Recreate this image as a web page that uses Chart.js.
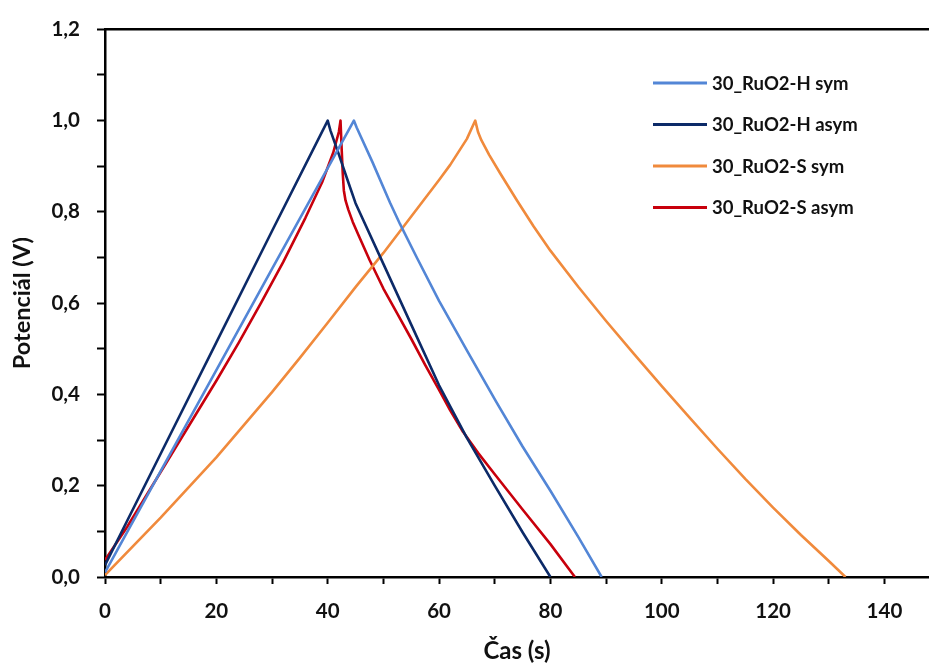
<!DOCTYPE html>
<html>
<head>
<meta charset="utf-8">
<script src="https://cdn.jsdelivr.net/npm/chart.js@4.4.1/dist/chart.umd.min.js"></script>
<style>
  html, body { margin: 0; padding: 0; background: #fff; }
  #wrap { width: 929px; height: 666px; }
</style>
</head>
<body>
<div id="wrap"><canvas id="c" width="929" height="666"></canvas></div>
<script>
  // series names and colours
  const seriesNames = ['30_RuO2-H sym', '30_RuO2-H asym', '30_RuO2-S sym', '30_RuO2-S asym'];
  const seriesColors = ['#5386D6', '#0C2A68', '#F08A3C', '#C8000C'];

  // 30_RuO2-H sym
  const hSymT = [0, 10, 20, 30, 40, 44.7, 45.2, 48, 51.2, 53, 56, 60, 65.2, 70.3, 75, 80, 85, 89.2];
  const hSymV = [0.01, 0.232, 0.453, 0.675, 0.896, 1.0, 0.985, 0.91, 0.82, 0.773, 0.70, 0.605, 0.492, 0.383, 0.286, 0.189, 0.088, 0];

  // 30_RuO2-H asym
  const hAsymT = [0, 10, 20, 30, 40, 40.5, 42, 43.5, 45, 50, 55, 60, 65, 70, 75, 80];
  const hAsymV = [0.026, 0.27, 0.514, 0.758, 1.0, 0.978, 0.926, 0.872, 0.819, 0.686, 0.553, 0.42, 0.305, 0.20, 0.098, 0];

  // 30_RuO2-S sym
  const sSymT = [0, 10, 20, 30, 35, 40, 45, 50, 55, 60, 62, 65, 66.5, 67, 67.6, 69, 71, 74, 77, 80, 85, 90, 95, 100, 105, 110, 115, 120, 125, 130, 133];
  const sSymV = [0.004, 0.13, 0.262, 0.405, 0.48, 0.557, 0.635, 0.71, 0.79, 0.87, 0.903, 0.96, 1.0, 0.975, 0.957, 0.925, 0.884, 0.825, 0.768, 0.715, 0.636, 0.561, 0.489, 0.418, 0.349, 0.281, 0.215, 0.152, 0.092, 0.035, 0];

  // 30_RuO2-S asym
  const sAsymT = [0, 4, 8, 12, 16, 20, 24, 28, 32, 36, 39, 41, 42, 42.3, 42.5, 42.7, 42.9, 43.2, 43.7, 44.5, 45.5, 47.5, 50, 52.5, 55, 57.5, 60, 62, 64.3, 67, 70, 75, 80, 84.4];
  const sAsymV = [0.037, 0.11, 0.19, 0.27, 0.35, 0.43, 0.513, 0.60, 0.69, 0.787, 0.865, 0.93, 0.975, 1.0, 0.94, 0.885, 0.847, 0.825, 0.805, 0.778, 0.75, 0.695, 0.632, 0.577, 0.522, 0.465, 0.41, 0.365, 0.318, 0.272, 0.225, 0.148, 0.072, 0];

  // axis ticks
  const xTicks = [0, 10, 20, 30, 40, 50, 60, 70, 80, 90, 100, 110, 120, 130, 140];
  const xLabels = [0, 20, 40, 60, 80, 100, 120, 140];
  const yTicks = [0, 0.1, 0.2, 0.3, 0.4, 0.5, 0.6, 0.7, 0.8, 0.9, 1.0, 1.1, 1.2];
  const yLabels = [0, 0.2, 0.4, 0.6, 0.8, 1.0, 1.2];

  const FONT = 'Lato, "Open Sans", sans-serif';

  function pts(t, v) { return t.map((x, i) => ({ x: x, y: v[i] })); }
  const allSeries = [[hSymT, hSymV], [hAsymT, hAsymV], [sSymT, sSymV], [sAsymT, sAsymV]];

  const datasets = allSeries.map((s, i) => ({
    label: seriesNames[i],
    data: pts(s[0], s[1]),
    borderColor: seriesColors[i],
    backgroundColor: seriesColors[i],
    borderWidth: 2.6,
    borderJoinStyle: 'round',
    pointRadius: 0,
    showLine: true,
    tension: 0,
    fill: false
  }));

  // top frame line + legend inside plot
  const framePlugin = {
    id: 'frame',
    afterDraw(chart) {
      const ctx = chart.ctx, a = chart.chartArea;
      ctx.save();
      ctx.strokeStyle = '#000';
      ctx.lineWidth = 2.5;
      ctx.beginPath();
      ctx.moveTo(a.left, a.top);
      ctx.lineTo(chart.width, a.top);
      ctx.stroke();

      ctx.font = 'bold 18.5px ' + FONT;
      ctx.textBaseline = 'middle';
      ctx.textAlign = 'left';
      seriesNames.forEach((name, i) => {
        const y = 83 + i * 41.5;
        ctx.strokeStyle = seriesColors[i];
        ctx.lineWidth = 3;
        ctx.beginPath();
        ctx.moveTo(653, y);
        ctx.lineTo(707, y);
        ctx.stroke();
        ctx.fillStyle = '#111';
        ctx.fillText(name, 712, y + 1);
      });
      ctx.restore();
    }
  };

  new Chart(document.getElementById('c').getContext('2d'), {
    type: 'scatter',
    data: { datasets },
    options: {
      responsive: false,
      animation: false,
      layout: { padding: { top: 23, right: 0, left: 0, bottom: 0 } },
      plugins: { legend: { display: false }, tooltip: { enabled: false } },
      scales: {
        x: {
          type: 'linear',
          min: 0,
          max: 148,
          afterBuildTicks: s => { s.ticks = xTicks.map(v => ({ value: v })); },
          afterFit: s => { s.height = 89; },
          border: { display: true, color: '#000', width: 2.5 },
          grid: { drawOnChartArea: false, drawTicks: true, tickLength: 7, tickColor: '#000', tickWidth: 2 },
          ticks: {
            color: '#111',
            padding: 15,
            maxRotation: 0,
            autoSkip: false,
            font: { family: FONT, size: 20.5, weight: 'bold' },
            callback: v => xLabels.includes(v) ? String(v) : ''
          },
          title: {
            display: true,
            text: 'Čas (s)',
            color: '#111',
            font: { family: FONT, size: 24, weight: 'bold' },
            padding: { top: 0, bottom: 0 }
          }
        },
        y: {
          min: 0,
          max: 1.2,
          afterBuildTicks: s => { s.ticks = yTicks.map(v => ({ value: v })); },
          afterFit: s => { s.width = 105; },
          border: { display: true, color: '#000', width: 2.5 },
          grid: { drawOnChartArea: false, drawTicks: true, tickLength: 8, tickColor: '#000', tickWidth: 2 },
          ticks: {
            color: '#111',
            padding: 17,
            autoSkip: false,
            font: { family: FONT, size: 20.5, weight: 'bold' },
            callback: v => yLabels.some(l => Math.abs(l - v) < 1e-6) ? v.toFixed(1).replace('.', ',') : ''
          },
          title: {
            display: true,
            text: 'Potenciál (V)',
            color: '#111',
            font: { family: FONT, size: 23.5, weight: 'bold' },
            padding: { top: 8, bottom: 0 }
          }
        }
      }
    },
    plugins: [framePlugin]
  });
</script>
</body>
</html>
